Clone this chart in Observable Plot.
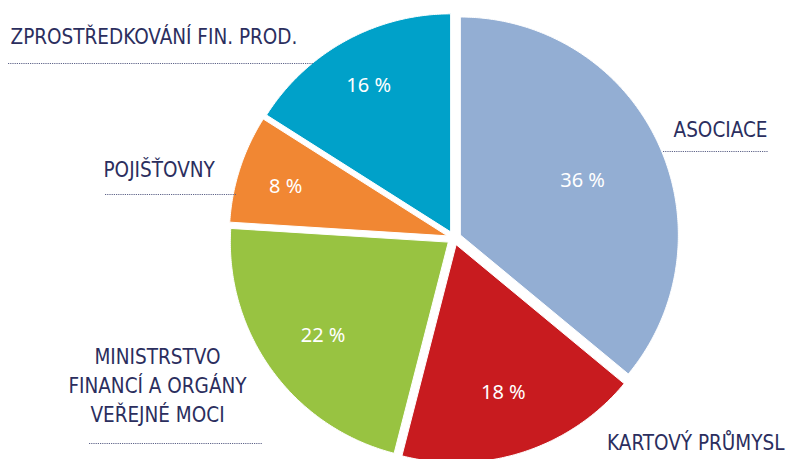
<!DOCTYPE html>
<html>
<head>
<meta charset="utf-8">
<script src="https://cdn.jsdelivr.net/npm/d3@7"></script>
<script src="https://cdn.jsdelivr.net/npm/@observablehq/plot@0.6"></script>
<style>
  html, body { margin: 0; padding: 0; background: #fff; }
  #chart svg { display: block; }
</style>
</head>
<body>
<div id="chart"></div>
<script>
// ---- data ----
const categories = ["ASOCIACE", "KARTOVÝ PRŮMYSL", "MINISTRSTVO\nFINANCÍ A ORGÁNY\nVEŘEJNÉ MOCI", "POJIŠŤOVNY", "ZPROSTŘEDKOVÁNÍ FIN. PROD."];
const shares = [36, 18, 22, 8, 16];
const percentLabels = ["36 %", "18 %", "22 %", "8 %", "16 %"];

// ---- layout / style ----
const W = 792, H = 459;
const colors = ["#93aed3", "#c81b1f", "#98c341", "#f18733", "#00a1c9"];
const cx = 453.5, cy = 237.5, R = 218, explode = 7;
const labelRadius = [0.62, 0.70, 0.71, 0.78, 0.78];
const textColor = "#2b2e5e";
const catFont = "'DejaVu Sans Condensed', 'DejaVu Sans', sans-serif";
// category label anchors (annotation layout)
const catLabelLayout = [
  {x: 767, y: 136, anchor: "end"},
  {x: 784, y: 449, anchor: "end"},
  {x: 157, y: 421, anchor: "middle"},
  {x: 103, y: 176, anchor: "start"},
  {x: 10,  y: 43,  anchor: "start"}
];
const leaderLayout = [
  {y: 151, x1: 663, x2: 768},
  {y: 443, x1: 89, x2: 262},
  {y: 194, x1: 105, x2: 236},
  {y: 63,  x1: 8,   x2: 313}
];

// ---- geometry via d3.pie ----
const table = categories.map((c, i) => ({cat: c, share: shares[i], label: percentLabels[i], i}));
const arcs = d3.pie().sort(null).value(d => d.share).startAngle(0).endAngle(2 * Math.PI)(table);

const polyPts = [];
const pctPts = [];
arcs.forEach(a => {
  const mid = (a.startAngle + a.endAngle) / 2;
  const ox = cx + explode * Math.sin(mid), oy = cy - explode * Math.cos(mid);
  polyPts.push({cat: a.data.cat, x: ox, y: oy});
  const n = Math.max(2, Math.ceil((a.endAngle - a.startAngle) / (Math.PI / 360)));
  for (let k = 0; k <= n; k++) {
    const t = a.startAngle + (a.endAngle - a.startAngle) * k / n;
    polyPts.push({cat: a.data.cat, x: ox + R * Math.sin(t), y: oy - R * Math.cos(t)});
  }
  polyPts.push({cat: a.data.cat, x: ox, y: oy});
  const lr = R * labelRadius[a.data.i];
  pctPts.push({label: a.data.label, x: ox + lr * Math.sin(mid), y: oy - lr * Math.cos(mid)});
});

const catPts = table.map((d, i) => ({text: d.cat, ...catLabelLayout[i]}));

const plot = Plot.plot({
  width: W,
  height: H,
  margin: 0,
  x: {domain: [0, W], range: [0, W], axis: null},
  y: {domain: [0, H], range: [0, H], axis: null},
  color: {domain: categories, range: colors},
  style: {background: "#fff"},
  marks: [
    Plot.line(polyPts, {x: "x", y: "y", z: "cat", fill: "cat", stroke: "#fff", strokeWidth: 1, curve: "linear"}),
    Plot.text(pctPts, {x: "x", y: "y", dy: 3, text: "label", fill: "#fff", fontSize: 20, fontFamily: "Noto Sans", textAnchor: "middle", lineAnchor: "middle"}),
    Plot.ruleY(leaderLayout, {y: "y", x1: "x1", x2: "x2", stroke: "#5f6489", strokeWidth: 1, strokeDasharray: "1.2,1"}),
    ...["start", "middle", "end"].map(anc =>
      Plot.text(catPts.filter(d => d.anchor === anc), {x: "x", y: "y", text: "text", fill: textColor, fontSize: 20.5, fontFamily: catFont, textAnchor: anc, lineAnchor: "bottom", lineHeight: 1.4})
    )
  ]
});
plot.querySelectorAll("g[font-family*='DejaVu']").forEach(g => g.style.fontStretch = "condensed");
document.getElementById("chart").appendChild(plot);
</script>
</body>
</html>
